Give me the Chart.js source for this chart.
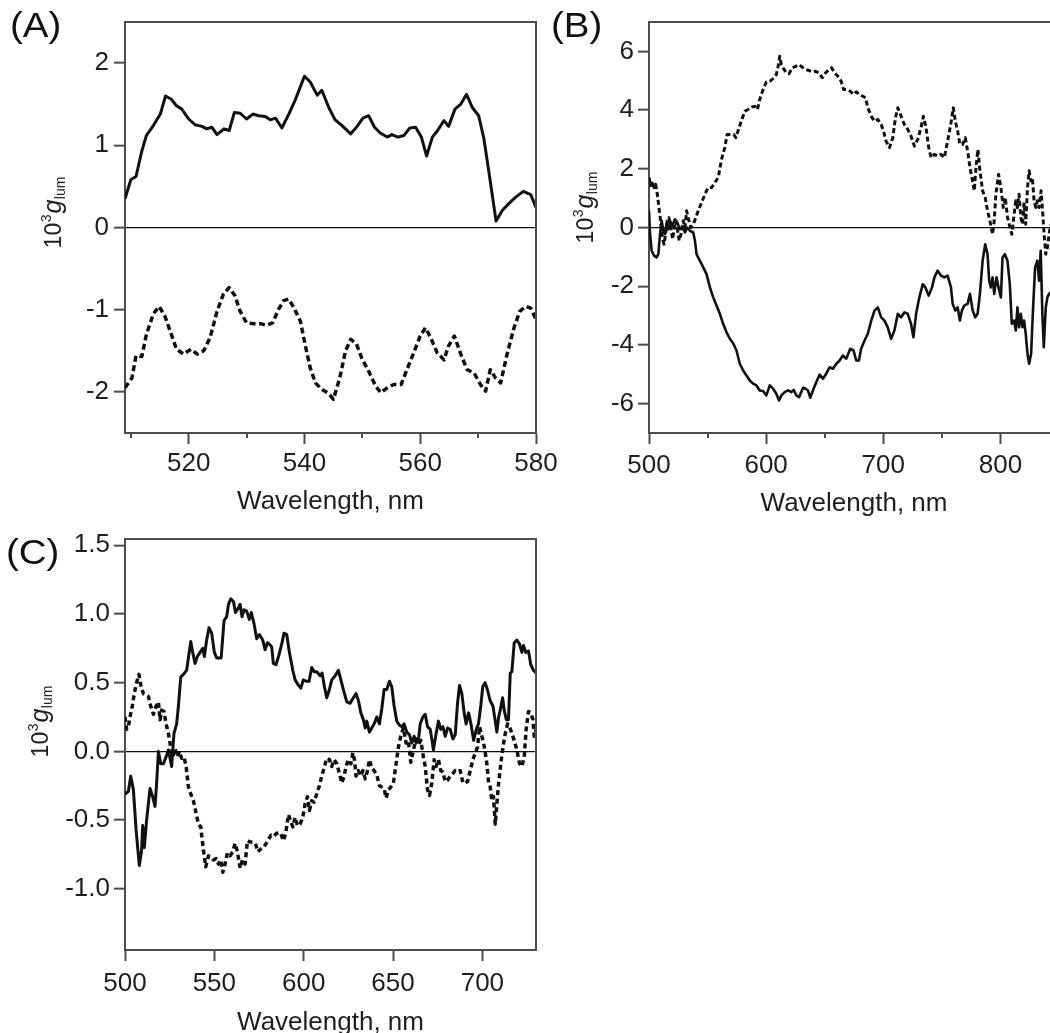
<!DOCTYPE html>
<html lang="en">
<head>
<meta charset="utf-8">
<title>Luminescence dissymmetry spectra</title>
<script src="https://cdn.jsdelivr.net/npm/chart.js@4.4.1/dist/chart.umd.min.js"></script>
<style>
  html, body { margin: 0; padding: 0; background: #fff; overflow: hidden; }
  #sheet { position: relative; width: 1050px; height: 1033px; overflow: hidden; background: #fff; }
  #sheet canvas { position: absolute; left: 0; top: 0; }
</style>
</head>
<body>
<div id="sheet">
  <canvas id="panelA" width="1050" height="1033"></canvas>
  <canvas id="panelB" width="1090" height="1033"></canvas>
  <canvas id="panelC" width="1050" height="1050"></canvas>
</div>
<script>
// ---- Panel (A): [wavelength nm, 10^3 g_lum] ----
const aSolid = [[509,0.35],[510,0.58],[510.9,0.62],[511.9,0.93],[512.7,1.12],[513.9,1.24],[515.1,1.38],[516,1.6],[517,1.56],[517.9,1.48],[518.8,1.44],[520,1.32],[521.1,1.25],[522.3,1.23],[523.1,1.2],[524,1.22],[524.9,1.13],[526.1,1.2],[527,1.18],[527.9,1.40],[528.9,1.39],[530,1.32],[531.1,1.38],[532.1,1.36],[533.2,1.35],[534.1,1.31],[535,1.33],[536.1,1.21],[537.3,1.38],[538.4,1.55],[540,1.84],[541,1.77],[542.2,1.61],[543,1.67],[544.2,1.46],[545.3,1.31],[546.5,1.24],[548,1.14],[549.1,1.23],[550.1,1.33],[551.1,1.36],[552.1,1.22],[553.1,1.15],[554.3,1.10],[555.1,1.13],[556.1,1.10],[557.2,1.12],[558.2,1.21],[559.2,1.22],[560.2,1.10],[561.1,0.87],[562.1,1.10],[563,1.18],[564.1,1.30],[564.9,1.23],[566,1.44],[567,1.50],[568,1.62],[569,1.46],[570.1,1.36],[571,1.08],[572,0.61],[573.1,0.08],[574.2,0.21],[575.3,0.29],[576.5,0.37],[577.8,0.44],[579.1,0.40],[580,0.24]];
const aDashed = [[509,-1.95],[510.2,-1.83],[510.9,-1.56],[511.9,-1.57],[512.7,-1.30],[513.9,-1.05],[514.9,-0.96],[515.9,-1.08],[517.1,-1.32],[517.9,-1.48],[519.1,-1.54],[520.4,-1.48],[521.5,-1.54],[522.6,-1.50],[523.7,-1.34],[524.9,-1.02],[526,-0.81],[527,-0.73],[528,-0.83],[528.9,-1.02],[530,-1.16],[531.2,-1.17],[532.4,-1.17],[533.5,-1.19],[534.5,-1.16],[535.5,-1.00],[536.4,-0.89],[537.3,-0.87],[538.2,-0.98],[539.3,-1.14],[540.1,-1.42],[541,-1.71],[541.9,-1.89],[543,-1.97],[544.2,-2.02],[545,-2.09],[546.1,-1.83],[547.1,-1.50],[548,-1.36],[549,-1.42],[549.9,-1.59],[551.1,-1.75],[552.3,-1.93],[553.2,-2.01],[554.3,-1.95],[555.4,-1.91],[556.7,-1.91],[557.7,-1.73],[558.9,-1.52],[560,-1.32],[560.9,-1.22],[561.8,-1.34],[562.9,-1.52],[564.1,-1.61],[564.9,-1.44],[565.9,-1.32],[567,-1.54],[568.1,-1.73],[569.3,-1.77],[570.4,-1.91],[571.3,-1.99],[572.1,-1.73],[573,-1.83],[573.9,-1.89],[575,-1.54],[576.2,-1.22],[577.2,-1.02],[578.2,-0.96],[579.1,-0.98],[580,-1.12]];
const aMajorTicks = [520, 540, 560, 580];
const aMinorTicks = [510, 530, 550, 570];
const aYTicks = [-2, -1, 0, 1, 2];

// ---- Panel (B) ----
const bSolid = [[500,0.57],[500.9,-0.23],[502.3,-0.79],[504.3,-0.96],[506.5,-1.02],[508,-0.91],[509.4,-0.23],[510.8,0.23],[512.2,-0.11],[513.6,-0.23],[515,0.11],[516.5,-0.06],[517.9,0.23],[519.9,0.06],[522.1,0.28],[524.1,0.17],[526.4,-0.06],[528.7,0.02],[530.7,-0.17],[532.7,0],[534.9,-0.11],[537.8,-0.17],[539.2,-0.45],[540.6,-0.91],[543.4,-1.13],[546.3,-1.36],[549.1,-1.59],[552,-2.04],[554.8,-2.38],[557.6,-2.66],[560.5,-2.94],[563.3,-3.28],[566.2,-3.57],[569,-3.79],[571.8,-3.94],[574.7,-4.19],[577.5,-4.64],[580.4,-4.87],[583.2,-5.04],[586,-5.21],[588.9,-5.32],[591.7,-5.38],[594.5,-5.55],[597.4,-5.57],[600.2,-5.72],[603.1,-5.38],[605.9,-5.49],[608.7,-5.66],[611,-5.89],[613,-5.72],[615.8,-5.61],[618.7,-5.55],[621.5,-5.61],[623.5,-5.53],[625.8,-5.72],[628.1,-5.78],[631.5,-5.46],[633.7,-5.49],[635.7,-5.55],[637.7,-5.80],[640.5,-5.49],[643.4,-5.21],[645.7,-5.01],[648.5,-5.15],[651.3,-4.98],[654.2,-4.76],[657,-4.81],[659.9,-4.64],[662.7,-4.53],[665.5,-4.36],[668.4,-4.47],[671.8,-4.13],[674.6,-4.19],[676.9,-4.53],[679.2,-4.53],[681.1,-4.13],[684,-3.85],[686.8,-3.62],[689.7,-3.17],[692.5,-2.83],[695.3,-2.72],[698.2,-3.06],[701,-3.17],[703.8,-3.40],[706.7,-3.79],[709.5,-3.51],[712.4,-2.94],[715.2,-3.06],[718,-2.89],[720.9,-2.94],[723.7,-3.28],[725.7,-3.74],[728,-2.94],[730.8,-2.38],[733.7,-1.93],[735.9,-2.04],[738.8,-2.32],[741.6,-2.04],[743.6,-1.70],[746.4,-1.47],[749.3,-1.64],[752.1,-1.70],[754.9,-1.64],[757.8,-2.04],[759.2,-2.60],[761.5,-2.83],[763.5,-2.72],[765.4,-3.17],[767.1,-2.83],[769.1,-2.66],[772,-2.60],[774,-2.26],[776.3,-2.83],[778.5,-3.06],[780.5,-2.94],[782.5,-2.26],[784.8,-1.13],[787,-0.57],[789,-0.91],[790.4,-1.81],[791.8,-2.04],[793.3,-1.70],[794.7,-2.26],[796.7,-1.70],[798.4,-2.04],[800.4,-2.38],[801.8,-1.02],[803.8,-0.91],[806,-1.13],[808,-1.93],[809.7,-3.28],[811.7,-3.17],[813.1,-3.51],[814.5,-2.72],[815.9,-3.40],[817.4,-2.94],[818.8,-3.40],[820.2,-3.17],[821.6,-3.62],[823.1,-4.30],[824.5,-4.64],[826.2,-4.30],[827.9,-2.72],[829.6,-1.36],[831.5,-1.13],[833,-1.81],[834.4,-0.79],[835.8,-2.94],[837,-4.08],[838.7,-2.72],[840.1,-2.38],[841.5,-2.26],[843,-2.2]];
const bDashed = [[500,1.70],[501.4,1.42],[502.8,1.59],[504.3,1.36],[505.7,1.47],[507.1,1.13],[508.5,0.68],[509.9,0.23],[511.4,-0.34],[512.8,-0.57],[514.2,-0.23],[515.6,0.23],[517,0.34],[518.5,0],[520.2,-0.40],[521.6,0],[523,0.23],[524.4,-0.11],[525.8,-0.45],[527.3,-0.23],[529.2,0.23],[530.7,0],[532.1,0.57],[534.1,0.23],[535.8,0],[537.8,0.11],[540,0.34],[542,0.57],[544.9,0.85],[547.7,1.13],[550.5,1.36],[553.4,1.36],[556.2,1.53],[559.1,1.70],[561.9,2.32],[564.7,2.72],[566.7,3.17],[569.6,3.17],[572.4,3.17],[574.1,3.06],[576.9,3.40],[579.8,3.74],[581.8,3.96],[584.6,4.02],[587.5,4.10],[590.3,4.13],[592.6,4.02],[594.5,4.36],[597.4,4.70],[600.2,4.96],[603.1,4.98],[605.9,5.07],[608.7,5.21],[610.2,5.49],[611.6,5.83],[613,5.55],[614.4,5.44],[617.3,5.27],[619.5,5.24],[622.4,5.44],[625.2,5.49],[628.1,5.55],[630.9,5.46],[633.7,5.38],[636.6,5.35],[639.4,5.30],[642.2,5.32],[645.1,5.27],[647.9,5.10],[650.8,5.27],[653.6,5.38],[655.9,5.44],[658.4,5.27],[661.3,5.15],[664.1,4.98],[666.1,4.70],[669,4.70],[671.8,4.64],[674.6,4.53],[676.9,4.62],[679.7,4.53],[682.6,4.47],[684.8,4.42],[686.8,4.08],[689.7,3.79],[692.5,3.62],[695.3,3.68],[698.2,3.51],[700.2,3.28],[702.4,2.94],[705.3,2.72],[708.1,3.06],[710.4,3.74],[712.4,4.08],[715.2,3.79],[718,3.51],[720.9,3.34],[723.7,3.11],[726.6,2.77],[729.4,3.00],[732.2,3.40],[734.2,3.79],[736.5,3.40],[738.8,2.72],[740.8,2.38],[743.6,2.49],[746.4,2.43],[749.3,2.49],[752.1,2.38],[754.9,2.94],[757.8,3.57],[759.8,4.08],[761.5,3.62],[763.5,3.28],[765.4,2.83],[767.7,2.83],[770,3.06],[772,2.60],[774,2.04],[775.7,1.70],[777.7,1.25],[779.1,2.04],[780.8,2.66],[782.5,1.93],[784.8,1.25],[787,1.02],[789,0.57],[791,0.23],[793.3,-0.23],[794.7,0.23],[796.1,1.13],[798.4,1.81],[800.4,1.36],[802.4,0.68],[804.1,1.02],[806.1,0.34],[808.1,0],[809.7,-0.23],[811.7,0.45],[813.1,0.91],[814.5,0.68],[815.9,1.13],[817.4,0.34],[818.8,0.11],[820.2,0.85],[821.6,0.11],[823.1,1.36],[824.5,1.93],[825.9,1.59],[827.3,1.70],[828.7,0.91],[830.2,0.68],[831.5,0.91],[833,0.68],[834.7,1.25],[835.8,0.68],[837.3,-0.23],[838.7,-0.91],[840.1,-0.68],[841.5,-0.23],[843,0.1]];
const bMajorTicks = [500, 600, 700, 800];
const bMinorTicks = [550, 650, 750];
const bYTicks = [-6, -4, -2, 0, 2, 4, 6];

// ---- Panel (C) ----
const cSolid = [[500,-0.31],[501.9,-0.29],[503.2,-0.18],[504.7,-0.28],[506.2,-0.57],[508,-0.83],[509.3,-0.72],[509.9,-0.54],[510.8,-0.70],[512.1,-0.50],[514,-0.27],[515.5,-0.33],[516.8,-0.40],[517.7,-0.23],[518.7,0],[520,-0.09],[521.5,-0.09],[523,-0.04],[524.3,0.01],[526.1,-0.11],[527.4,0.13],[528.9,0.20],[529.9,0.33],[531.2,0.54],[532.7,0.56],[534.5,0.59],[535.6,0.69],[536.8,0.80],[537.9,0.72],[539.2,0.64],[540.5,0.69],[542,0.72],[543.5,0.75],[544.4,0.69],[545.7,0.81],[547,0.90],[548.5,0.86],[550,0.72],[551.3,0.68],[553.8,0.68],[555.4,0.95],[556.9,0.98],[557.9,1.07],[559.2,1.11],[560.7,1.09],[561.8,1.01],[563.3,1.04],[564.4,1.07],[565.5,0.98],[566.6,1.03],[568.1,1.02],[569.6,0.96],[570.7,1.01],[572.2,0.93],[573.7,0.82],[575.2,0.85],[577.1,0.81],[578.4,0.74],[579.7,0.79],[580.8,0.78],[582.1,0.76],[583,0.64],[584.5,0.63],[585.9,0.69],[587.7,0.78],[589,0.86],[590.5,0.85],[592,0.72],[593.9,0.59],[595.2,0.52],[597.1,0.48],[598.4,0.46],[599.8,0.52],[601.3,0.51],[603,0.51],[604.5,0.61],[605.8,0.58],[607.3,0.58],[609.2,0.55],[610.3,0.57],[611.6,0.47],[612.9,0.39],[614.4,0.45],[615.7,0.52],[617.6,0.55],[619.4,0.59],[620.8,0.52],[622.2,0.45],[624.1,0.36],[626,0.35],[627.8,0.39],[629.3,0.42],[630.6,0.37],[632,0.28],[633.4,0.23],[634.4,0.17],[635.3,0.22],[636.8,0.14],[638.1,0.17],[639.4,0.20],[640.9,0.25],[642.4,0.20],[643.7,0.31],[645,0.45],[646.5,0.45],[648,0.51],[649.3,0.47],[650.6,0.33],[652.1,0.22],[653.6,0.19],[654.9,0.18],[656.2,0.20],[657.7,0.14],[659.2,0.12],[660.5,0.06],[661.8,0.11],[662.9,0.06],[664.2,0.08],[665.2,0.20],[666.7,0.25],[668,0.27],[669.3,0.18],[670.8,0.16],[671.8,0.08],[672.6,0.01],[674.1,0.13],[675.4,0.22],[676.7,0.16],[677.9,0.18],[679.2,0.11],[680.5,0.17],[682,0.16],[683.5,0.09],[684.8,0.12],[686.1,0.35],[687.2,0.48],[688.5,0.42],[689.8,0.28],[690.9,0.20],[692.3,0.28],[693.6,0.20],[695.1,0.08],[696.6,0.16],[697.8,0.20],[699.1,0.33],[700.2,0.47],[701.5,0.50],[702.8,0.45],[704.3,0.37],[705.9,0.33],[707.2,0.22],[708.1,0.14],[709.1,0.25],[710,0.30],[711.3,0.39],[712.2,0.30],[713.4,0.23],[714.6,0.23],[715.6,0.57],[716.5,0.58],[717.8,0.79],[719.3,0.81],[720.8,0.78],[722.1,0.72],[723,0.77],[724.3,0.72],[725.8,0.73],[727.1,0.63],[728.6,0.59],[730,0.57]];
const cDashed = [[500,0.25],[500.9,0.16],[501.9,0.18],[502.8,0.25],[504.1,0.33],[505.2,0.42],[506.5,0.50],[507.8,0.56],[509,0.47],[510.3,0.42],[511.8,0.41],[513.1,0.40],[514.4,0.33],[515.9,0.27],[517.4,0.33],[518.7,0.36],[519.6,0.23],[520.5,0.30],[521.8,0.29],[523,0.20],[524.3,0.13],[525.6,0.03],[526.7,-0.04],[528,0.02],[529.3,-0.04],[530.4,0],[531.7,-0.05],[533,-0.04],[534.2,-0.11],[535.5,-0.26],[536.8,-0.31],[538.3,-0.36],[539.8,-0.45],[541.1,-0.53],[542.4,-0.55],[543.9,-0.72],[545.2,-0.84],[546.7,-0.76],[548.2,-0.77],[549.5,-0.79],[551,-0.78],[552.3,-0.82],[553.6,-0.79],[554.7,-0.88],[556,-0.82],[557.3,-0.74],[558.8,-0.76],[560.3,-0.73],[561.6,-0.67],[562.9,-0.73],[564.4,-0.85],[565.7,-0.79],[567.2,-0.82],[568.5,-0.65],[570,-0.66],[571.5,-0.66],[573,-0.67],[574.3,-0.73],[576,-0.71],[577.5,-0.70],[579,-0.67],[580.3,-0.64],[581.7,-0.61],[583.1,-0.62],[584.5,-0.60],[585.9,-0.59],[587.2,-0.60],[588.7,-0.65],[590,-0.59],[591.5,-0.46],[592.8,-0.51],[593.9,-0.55],[595.2,-0.48],[596.5,-0.54],[598,-0.53],[599.5,-0.48],[600.8,-0.38],[602.1,-0.33],[603.2,-0.43],[604.5,-0.36],[605.8,-0.37],[607.3,-0.31],[608.8,-0.25],[610.1,-0.18],[611.4,-0.12],[612.9,-0.05],[614.4,-0.06],[615.7,-0.11],[617,-0.06],[618.5,-0.09],[620,-0.16],[621.3,-0.23],[622.6,-0.18],[623.7,-0.11],[625,-0.06],[626.4,-0.09],[627.5,-0.01],[628.4,-0.06],[629.3,-0.18],[630.6,-0.14],[632,-0.18],[633.1,-0.14],[634.4,-0.20],[635.7,-0.14],[636.8,-0.06],[638.1,-0.12],[639.4,-0.14],[640.9,-0.17],[642.4,-0.25],[643.7,-0.26],[645,-0.27],[646.1,-0.34],[647.4,-0.28],[648.7,-0.26],[650.2,-0.23],[651.7,-0.09],[653,0.03],[654.3,0.11],[655.8,0.17],[657.3,0.06],[658.6,0.08],[659.9,-0.08],[661.4,0.01],[662.9,0.09],[664.2,0.05],[665.5,0.08],[667,-0.04],[668,-0.11],[669.3,-0.28],[670.4,-0.32],[671.7,-0.23],[673,-0.06],[674.1,-0.11],[675.4,-0.06],[676.7,-0.14],[677.9,-0.15],[679.2,-0.22],[680.5,-0.21],[682,-0.18],[683.5,-0.16],[684.8,-0.14],[686.1,-0.15],[687.6,-0.14],[689.1,-0.23],[690.4,-0.23],[691.7,-0.22],[693.2,-0.14],[694.7,-0.06],[696,-0.01],[697.3,0.03],[698.4,0.18],[699.7,0.11],[700.7,0.06],[701.6,-0.01],[702.5,-0.09],[703.5,-0.23],[704.4,-0.26],[705.3,-0.36],[706.2,-0.33],[707.2,-0.53],[708.1,-0.38],[709.1,-0.23],[710.3,-0.09],[711.5,0.03],[712.8,0.13],[714.1,0.20],[715.2,0.18],[716.5,0.13],[717.8,0.08],[719.3,0.01],[720.8,-0.09],[722.1,-0.11],[723.4,-0.04],[724.5,0.16],[725.8,0.29],[727.1,0.28],[728.3,0.23],[729,0.11],[730,0.16]];
const cXTicks = [500, 550, 600, 650, 700];
const cYTicks = [-1.0, -0.5, 0.0, 0.5, 1.0, 1.5];

// ---- shared styling ----
const FONT = '"Liberation Sans", Arial, Helvetica, sans-serif';
const INK = '#111';
const TEXT = '#1e1e1e';
const FRAME = '#4d4d4d';

// Draws the y-axis symbol 10^3 g_lum rotated, with super/subscripts
function drawAxisSymbol(ctx, x, y) {
  const parts = [
    { text: '10',  font: `23px ${FONT}`,        shift: 0,  gap: 0.5 },
    { text: '3',   font: `14px ${FONT}`,        shift: -10, gap: 1 },
    { text: 'g',   font: `italic 25px ${FONT}`, shift: 0,  gap: 0.5 },
    { text: 'lum', font: `14px ${FONT}`,        shift: 4,  gap: 0 }
  ];
  ctx.save();
  ctx.translate(x, y);
  ctx.rotate(-Math.PI / 2);
  ctx.fillStyle = TEXT;
  ctx.textAlign = 'left';
  ctx.textBaseline = 'alphabetic';
  let total = 0;
  parts.forEach(p => { ctx.font = p.font; p.w = ctx.measureText(p.text).width; total += p.w + p.gap; });
  let cx = -total / 2;
  parts.forEach(p => { ctx.font = p.font; ctx.fillText(p.text, cx, p.shift); cx += p.w + p.gap; });
  ctx.restore();
}

// Frame (top/right), minor ticks, y-axis symbol and the panel tag
const panelDecor = {
  id: 'panelDecor',
  afterDraw(chart, args, o) {
    const { ctx, chartArea: a } = chart;
    const xs = chart.scales.x;
    ctx.save();
    ctx.strokeStyle = FRAME;
    ctx.lineWidth = 2;
    ctx.beginPath();
    ctx.moveTo(a.left - 1, a.top);
    ctx.lineTo(a.right, a.top);
    ctx.lineTo(a.right, a.bottom + 1);
    ctx.stroke();
    ctx.beginPath();
    (o.minorTicks || []).forEach(v => {
      const px = Math.round(xs.getPixelForValue(v));
      ctx.moveTo(px, a.bottom);
      ctx.lineTo(px, a.bottom + 5);
    });
    ctx.stroke();
    drawAxisSymbol(ctx, o.symbolX, o.symbolY);
    ctx.translate(o.tagX, o.tagY);
    ctx.scale(1.1, 1);
    ctx.font = `35px ${FONT}`;
    ctx.fillStyle = '#111';
    ctx.textAlign = 'left';
    ctx.textBaseline = 'middle';
    ctx.fillText(o.tag, 0, 0);
    ctx.restore();
  }
};

function buildPanel(id, p) {
  const toPoints = rows => rows.map(([x, y]) => ({ x, y }));
  const line = { borderColor: INK, pointRadius: 0, tension: 0, fill: false, borderJoinStyle: 'round', borderCapStyle: 'butt' };
  return new Chart(document.getElementById(id), {
    type: 'line',
    data: {
      datasets: [
        { ...line, data: toPoints(p.solid), borderWidth: p.solidWidth },
        { ...line, data: toPoints(p.dashed), borderWidth: p.dashWidth, borderDash: p.dash }
      ]
    },
    options: {
      responsive: false,
      animation: false,
      devicePixelRatio: 1,
      events: [],
      layout: { padding: p.padding },
      plugins: {
        legend: { display: false },
        tooltip: { enabled: false },
        panelDecor: p.decor
      },
      scales: {
        x: {
          type: 'linear',
          min: p.xMin,
          max: p.xMax,
          afterBuildTicks: s => { s.ticks = p.xTicks.map(v => ({ value: v })); },
          afterFit: s => { s.height = p.xAxisHeight; },
          border: { display: true, color: FRAME, width: 2 },
          grid: { display: true, drawOnChartArea: false, drawTicks: true, tickLength: 11, tickColor: FRAME, tickWidth: 2 },
          ticks: { color: TEXT, font: { family: FONT, size: 26 }, padding: p.xTickPad, maxRotation: 0, autoSkip: false, callback: v => String(v) },
          title: { display: true, text: 'Wavelength, nm', color: TEXT, font: { family: FONT, size: 26 }, padding: { top: 0, bottom: p.xTitlePad } }
        },
        y: {
          type: 'linear',
          min: p.yMin,
          max: p.yMax,
          afterBuildTicks: s => { s.ticks = p.yTicks.map(v => ({ value: v })); },
          afterFit: s => { s.width = 125; },
          border: { display: true, color: FRAME, width: 2 },
          grid: {
            display: true,
            drawOnChartArea: true,
            drawTicks: true,
            tickLength: 11,
            tickColor: FRAME,
            tickWidth: 2,
            lineWidth: 1.3,
            color: c => (c.tick && c.tick.value === 0) ? '#111' : 'rgba(0,0,0,0)'
          },
          ticks: { color: TEXT, font: { family: FONT, size: 26 }, padding: p.yTickPad, callback: p.yFormat }
        }
      }
    },
    plugins: [panelDecor]
  });
}

// (A) plot area: x 125..536, y 22..433
buildPanel('panelA', {
  solid: aSolid, dashed: aDashed, solidWidth: 3, dashWidth: 3.5, dash: [6, 3.5],
  xMin: 509, xMax: 580, xTicks: aMajorTicks,
  yMin: -2.5, yMax: 2.5, yTicks: aYTicks, yFormat: v => String(v),
  padding: { left: 0, top: 22, right: 514, bottom: 505 },
  xAxisHeight: 95, xTickPad: 4, xTitlePad: 11, yTickPad: 5,
  decor: { minorTicks: aMinorTicks, symbolX: 60.5, symbolY: 212.5, tag: '(A)', tagX: 10, tagY: 27 }
});

// (B) plot area: x 649..1059 (runs past the sheet edge), y 22..433
buildPanel('panelB', {
  solid: bSolid, dashed: bDashed, solidWidth: 2.6, dashWidth: 3, dash: [5, 3],
  xMin: 500, xMax: 850, xTicks: bMajorTicks,
  yMin: -7, yMax: 7, yTicks: bYTicks, yFormat: v => String(v),
  padding: { left: 524, top: 22, right: 31, bottom: 505 },
  xAxisHeight: 95, xTickPad: 6, xTitlePad: 9, yTickPad: 4,
  decor: { minorTicks: bMinorTicks, symbolX: 593, symbolY: 207.5, tag: '(B)', tagX: 551, tagY: 27 }
});

// (C) plot area: x 125..536, y 539..950
buildPanel('panelC', {
  solid: cSolid, dashed: cDashed, solidWidth: 3, dashWidth: 3.5, dash: [5, 3.5],
  xMin: 500, xMax: 730, xTicks: cXTicks,
  yMin: -1.445, yMax: 1.545, yTicks: cYTicks, yFormat: v => v.toFixed(1),
  padding: { left: 0, top: 539, right: 514, bottom: 0 },
  xAxisHeight: 100, xTickPad: 7, xTitlePad: 12, yTickPad: 4,
  decor: { minorTicks: [], symbolX: 48, symbolY: 721.5, tag: '(C)', tagX: 6, tagY: 554.5 }
});
</script>
</body>
</html>
